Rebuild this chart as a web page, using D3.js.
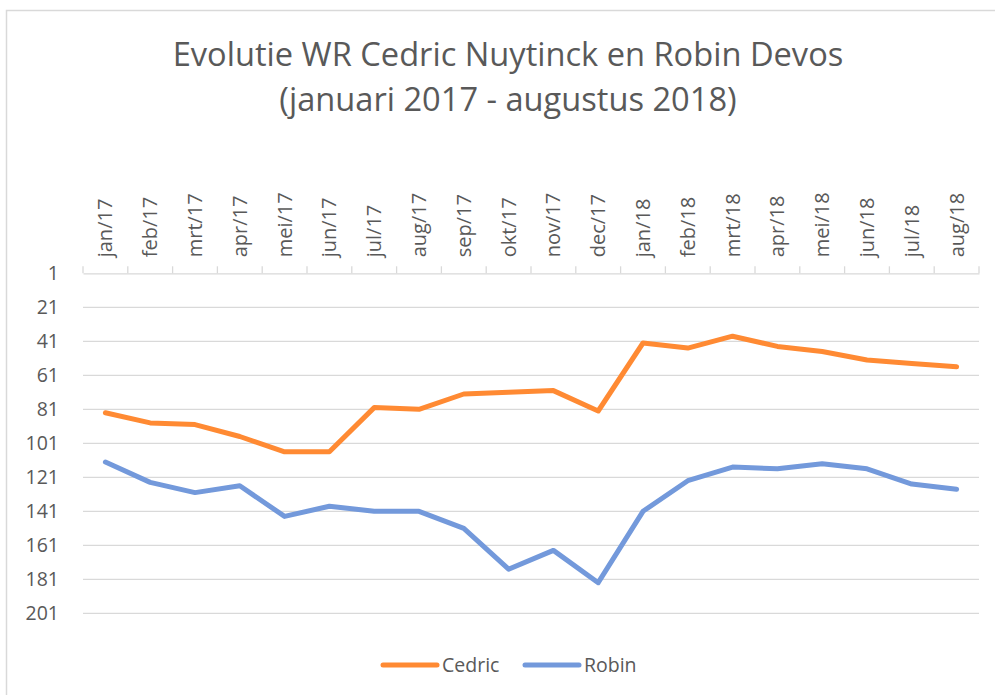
<!DOCTYPE html>
<html>
<head>
<meta charset="utf-8">
<script src="https://cdn.jsdelivr.net/npm/d3@7"></script>
<style>
  body { margin: 0; background: #fff; }
  svg { display: block; font-family: "Open Sans", sans-serif; }
</style>
</head>
<body>
<div id="chart"></div>
<script>
// Chart data
const months = ["jan/17", "feb/17", "mrt/17", "apr/17", "mei/17", "jun/17", "jul/17", "aug/17", "sep/17", "okt/17",
    "nov/17", "dec/17", "jan/18", "feb/18", "mrt/18", "apr/18", "mei/18", "jun/18", "jul/18", "aug/18"];
const cedric = [83, 89, 90, 97, 106, 106, 80, 81, 72, 71, 70, 82, 42, 45, 38, 44, 47, 52, 54, 56];
const robin = [112, 124, 130, 126, 144, 138, 141, 141, 151, 175, 164, 183, 141, 123, 115, 116, 113, 116, 125, 128];
const yTicks = [1, 21, 41, 61, 81, 101, 121, 141, 161, 181, 201];
const titleLines = ["Evolutie WR Cedric Nuytinck en Robin Devos", "(januari 2017 - augustus 2018)"];

const series = [
    { name: "Cedric", values: cedric, color: "#FF8A33" },
    { name: "Robin", values: robin, color: "#7399DB" }
];

const width = 995;
const height = 695;
const textColor = "#595959";
const gridColor = "#d9d9d9";

const svg = d3.select("#chart")
    .append("svg")
    .attr("width", width)
    .attr("height", height);

// Outer chart border (only top and left are inside the crop)
svg.append("rect")
    .attr("x", 6.5)
    .attr("y", 10.5)
    .attr("width", 1100)
    .attr("height", 800)
    .attr("fill", "none")
    .attr("stroke", gridColor)
    .attr("stroke-width", 1.5);

// Scales
const x = d3.scaleBand()
    .domain(months)
    .range([83, 979]);

const y = d3.scaleLinear()
    .domain([1, 201])
    .range([273.3, 613.3]);

// Title, first line fitted to the reference width, second line same size
const titleNodes = svg.append("g")
    .selectAll("text")
    .data(titleLines)
    .enter()
    .append("text")
    .attr("x", 508)
    .attr("y", (d, i) => 66 + i * 45)
    .attr("text-anchor", "middle")
    .attr("fill", textColor)
    .style("font-size", "30px")
    .text(d => d);
const titleSize = 30 * 671 / titleNodes.node().getComputedTextLength();
titleNodes.style("font-size", titleSize + "px");

// Horizontal gridlines
svg.append("g")
    .selectAll("line")
    .data(yTicks.slice(1))
    .enter()
    .append("line")
    .attr("x1", 83)
    .attr("x2", 979)
    .attr("y1", d => y(d))
    .attr("y2", d => y(d))
    .attr("stroke", gridColor)
    .attr("stroke-width", 1.3);

// Category axis at the top (value axis is reversed)
const xAxis = d3.axisTop(x).tickSize(0).tickPadding(0);
const xAxisG = svg.append("g")
    .attr("transform", "translate(0," + y(1) + ")")
    .call(xAxis);
xAxisG.select(".domain")
    .attr("stroke", gridColor)
    .attr("stroke-width", 1.3);
xAxisG.selectAll(".tick text")
    .attr("transform", "rotate(-90)")
    .attr("x", 16)
    .attr("y", 0)
    .attr("dy", "0.35em")
    .attr("text-anchor", "start")
    .attr("fill", textColor)
    .style("font-size", "20px")
    .style("font-family", "'Open Sans', sans-serif");

// Tick marks between categories
svg.append("g")
    .selectAll("line")
    .data(d3.range(months.length + 1))
    .enter()
    .append("line")
    .attr("x1", i => 83 + i * x.step())
    .attr("x2", i => 83 + i * x.step())
    .attr("y1", y(1) - 7)
    .attr("y2", y(1))
    .attr("stroke", gridColor)
    .attr("stroke-width", 1.3);

// Value axis labels
const yAxis = d3.axisLeft(y).tickValues(yTicks).tickSize(0).tickPadding(24);
const yAxisG = svg.append("g")
    .attr("transform", "translate(83,0)")
    .call(yAxis);
yAxisG.select(".domain").remove();
yAxisG.selectAll(".tick text")
    .attr("fill", textColor)
    .style("font-size", "19.5px")
    .style("font-family", "'Open Sans', sans-serif");

// Lines
const line = d3.line()
    .x((d, i) => x(months[i]) + x.bandwidth() / 2)
    .y(d => y(d));

svg.append("g")
    .selectAll("path")
    .data(series)
    .enter()
    .append("path")
    .attr("d", d => line(d.values))
    .attr("fill", "none")
    .attr("stroke", d => d.color)
    .attr("stroke-width", 5)
    .attr("stroke-linejoin", "round")
    .attr("stroke-linecap", "round");

// Legend
const legendX = [383, 525];
const legend = svg.append("g")
    .selectAll("g")
    .data(series)
    .enter()
    .append("g")
    .attr("transform", (d, i) => "translate(" + legendX[i] + ",665)");
legend.append("line")
    .attr("x1", 0)
    .attr("x2", 54)
    .attr("stroke", d => d.color)
    .attr("stroke-width", 5)
    .attr("stroke-linecap", "round");
legend.append("text")
    .attr("x", 59)
    .attr("dy", "0.35em")
    .attr("fill", textColor)
    .style("font-size", "19.5px")
    .text(d => d.name);
</script>
</body>
</html>
